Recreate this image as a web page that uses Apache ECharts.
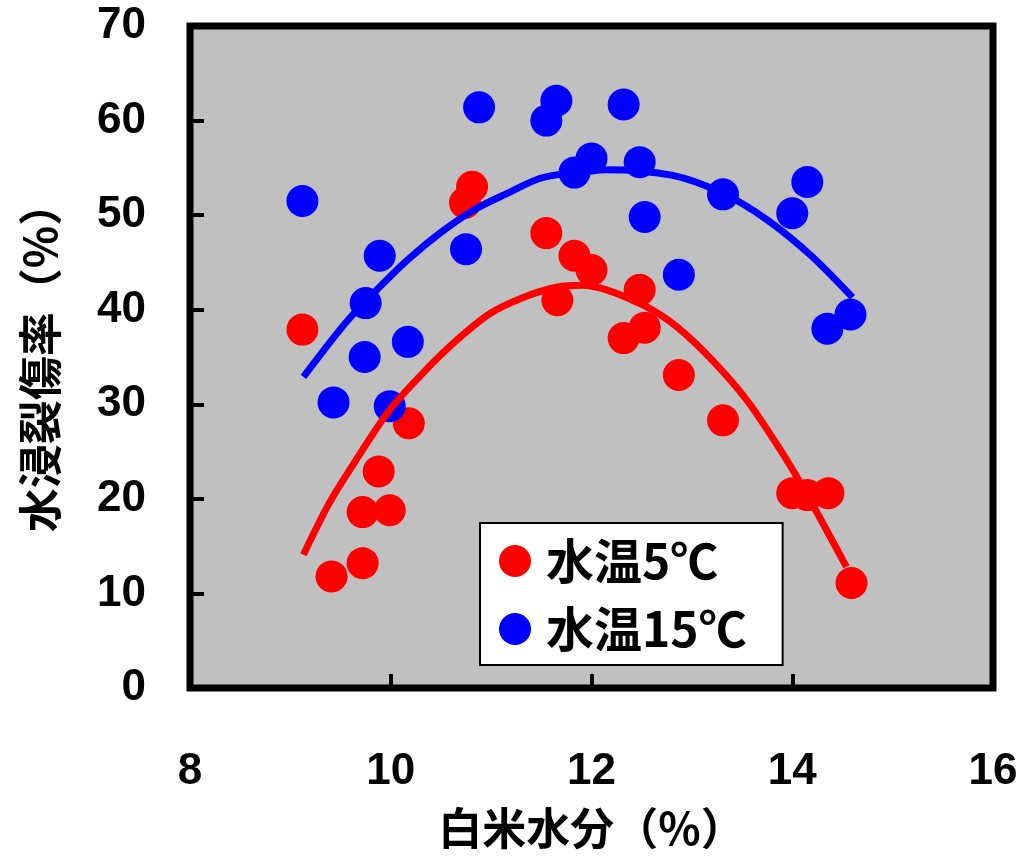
<!DOCTYPE html>
<html>
<head>
<meta charset="utf-8">
<script src="https://cdn.jsdelivr.net/npm/echarts@6/dist/echarts.min.js"></script>
<style>
  html, body { margin: 0; padding: 0; background: #fff; }
  #chart { width: 1024px; height: 859px; }
</style>
</head>
<body>
<div id="chart"></div>
<script>
// 水温5℃ の実測値
var temp5X = [9.12, 9.41, 9.72, 9.72, 9.88, 9.99, 10.18, 10.74, 10.81, 11.55, 11.66,
              11.83, 12.0, 12.32, 12.48, 12.53, 12.87, 13.31, 14.0, 14.15, 14.36, 14.59];
var temp5Y = [37.9, 11.8, 13.2, 18.6, 22.9, 18.8, 28.0, 51.3, 53.0, 48.1, 41.0,
              45.7, 44.2, 37.0, 42.1, 38.1, 33.1, 28.3, 20.6, 20.4, 20.6, 11.1];

// 水温15℃ の実測値
var temp15X = [9.12, 9.43, 9.75, 9.74, 9.89, 9.99, 10.17, 10.75, 10.88, 11.55, 11.65,
               11.83, 12.0, 12.32, 12.48, 12.53, 12.87, 13.31, 14.0, 14.15, 14.35, 14.58];
var temp15Y = [51.5, 30.2, 40.7, 35.0, 45.7, 29.8, 36.6, 46.4, 61.4, 60.0, 62.1,
               54.5, 56.0, 61.7, 55.6, 49.8, 43.7, 52.2, 50.2, 53.5, 38.0, 39.5];

// 近似曲線
var fit5X = [9.13, 9.39, 9.66, 9.99, 10.32, 10.66, 10.99, 11.32, 11.66, 11.9, 12.15,
             12.55, 12.85, 13.2, 13.55, 13.88, 14.08, 14.27, 14.54];
var fit5Y = [14.1, 19.6, 24.2, 29.4, 33.3, 36.8, 39.6, 41.3, 42.4, 42.6, 42.1,
             40.3, 38.2, 34.7, 30.4, 25.2, 21.7, 18.1, 12.8];
var fit15X = [9.13, 9.39, 9.59, 9.86, 10.16, 10.49, 10.82, 11.16, 11.49, 11.82, 12.15,
              12.81, 13.31, 13.75, 14.2, 14.6];
var fit15Y = [32.9, 36.5, 39.1, 42.1, 45.2, 48.1, 50.5, 52.3, 53.9, 54.5, 54.8,
              54.2, 52.3, 49.5, 45.6, 41.3];

var xTicks = [8, 10, 12, 14, 16];
var yTicks = [0, 10, 20, 30, 40, 50, 60, 70];

function zip(xs, ys) {
  return xs.map(function (x, i) { return [x, ys[i]]; });
}

var font = '"Liberation Sans", "Noto Sans CJK JP", sans-serif';
var cjk = '"Noto Sans CJK JP", sans-serif';

var chart = echarts.init(document.getElementById('chart'));
chart.setOption({
  animation: false,
  grid: {
    left: 190, top: 26, width: 803, height: 662,
    outerBoundsMode: 'none',
    containLabel: false,
    show: true,
    backgroundColor: '#c0c0c0',
    borderColor: '#000',
    borderWidth: 7
  },
  xAxis: {
    type: 'value',
    min: xTicks[0], max: xTicks[xTicks.length - 1], interval: 2,
    splitLine: { show: false },
    axisLine: { show: false },
    axisTick: { show: true, inside: true, length: 14, lineStyle: { color: '#000', width: 4 } },
    axisLabel: { margin: 62, color: '#000', fontSize: 44, fontWeight: 'bold', fontFamily: font },
    name: '白米水分（%）',
    nameLocation: 'middle',
    nameGap: 118,
    nameTextStyle: { color: '#000', fontSize: 44, fontWeight: 'bold', fontFamily: cjk }
  },
  yAxis: {
    type: 'value',
    min: yTicks[0], max: yTicks[yTicks.length - 1], interval: 10,
    splitLine: { show: false },
    axisLine: { show: false },
    axisTick: { show: true, inside: true, length: 14, lineStyle: { color: '#000', width: 4 } },
    axisLabel: { margin: 44, color: '#000', fontSize: 44, fontWeight: 'bold', fontFamily: font },
    name: '水浸裂傷率（%）',
    nameLocation: 'middle',
    nameGap: 128,
    nameTextStyle: { color: '#000', fontSize: 44, fontWeight: 'bold', fontFamily: cjk }
  },
  legend: {
    data: ['水温5℃', '水温15℃'],
    orient: 'vertical',
    left: 480, top: 523,
    backgroundColor: '#fff',
    borderColor: '#000',
    borderWidth: 2,
    borderRadius: 0,
    padding: [10, 36, 8, 19],
    itemWidth: 32, itemHeight: 32,
    itemGap: 12,
    icon: 'circle',
    textStyle: {
      color: '#000', fontSize: 48, fontFamily: cjk, fontWeight: 'bold',
      lineHeight: 56, padding: [0, 0, 0, 10]
    }
  },
  series: [
    {
      name: '水温5℃', type: 'scatter', data: zip(temp5X, temp5Y),
      symbolSize: 32, itemStyle: { color: '#ff0000', opacity: 1 }, z: 2
    },
    {
      name: '水温15℃', type: 'scatter', data: zip(temp15X, temp15Y),
      symbolSize: 32, itemStyle: { color: '#0000ff', opacity: 1 }, z: 2
    },
    {
      name: 'fit15', type: 'line', data: zip(fit15X, fit15Y), smooth: 0.3,
      showSymbol: false, lineStyle: { color: '#0000ff', width: 7 }, z: 3
    },
    {
      name: 'fit5', type: 'line', data: zip(fit5X, fit5Y), smooth: 0.3,
      showSymbol: false, lineStyle: { color: '#ff0000', width: 7 }, z: 4
    }
  ]
});
</script>
</body>
</html>
